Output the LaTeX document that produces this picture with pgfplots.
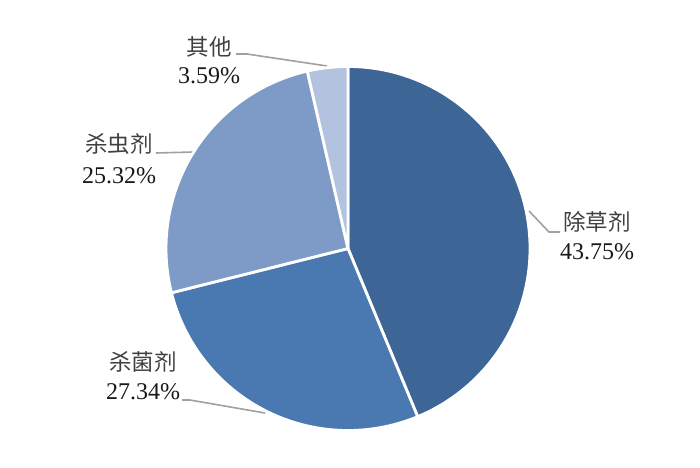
\documentclass[border=0pt]{standalone}
\usepackage{fontspec}
\setmainfont{Liberation Serif}
\newfontfamily\cjk{Noto Sans CJK SC}
\usepackage{pgfplots}
\pgfplotsset{compat=1.18}
\usepackage{pgfplotstable}

\definecolor{sA}{HTML}{3D6596}
\definecolor{sB}{HTML}{4A78B0}
\definecolor{sC}{HTML}{7E9BC8}
\definecolor{sD}{HTML}{B3C3DF}
\definecolor{leader}{HTML}{A0A0A0}

% slices: centre (px), cumulative start/end percent, colour index
\pgfplotstableread{
x y p0 p1 c
348 248.5 0.00 43.75 1
348 248.5 43.75 71.09 2
348 248.5 71.09 96.41 3
348 248.5 96.41 100.00 4
}\slices

% label positions: name line and percent line
\pgfplotstableread{
x yn yp name pct
597 222 252 除草剂 43.75\%
143 362 392 杀菌剂 27.34\%
119 144 176 杀虫剂 25.32\%
209 47 76 其他 3.59\%
}\labels

\begin{document}
\begin{tikzpicture}
\begin{axis}[
    width=700pt, height=467pt,
    scale only axis,
    xmin=0, xmax=700, ymin=0, ymax=467,
    y dir=reverse,
    hide axis,
    clip=false,
]
% keep the full canvas as bounding box
\addplot[draw=none, mark=none, forget plot] coordinates {(0,0) (700,467)};

% pie slices
\addplot[scatter, only marks, mark=*, mark size=0pt,
    mark options={draw=none, fill=none},
    visualization depends on={\thisrow{p0} \as \pa},
    visualization depends on={\thisrow{p1} \as \pb},
    visualization depends on={\thisrow{c} \as \ci},
    scatter/@pre marker code/.code={%
        \pgfmathsetmacro\sa{90-3.6*\pa}%
        \pgfmathsetmacro\sb{90-3.6*\pb}%
        \pgfmathtruncatemacro\cidx{\ci}%
        \ifcase\cidx\def\slcol{sA}\or\def\slcol{sA}\or\def\slcol{sB}\or\def\slcol{sC}\else\def\slcol{sD}\fi
        \fill[fill=\slcol, draw=white, line width=2.8pt, line join=round]
            (0,0) -- (\sa:182pt) arc[start angle=\sa, end angle=\sb, radius=182pt] -- cycle;
    },
    scatter/@post marker code/.code={},
] table {\slices};

% leader lines
\addplot[leader, line width=1.6pt, mark=none] coordinates {(236,54) (247,54) (327,66)};
\addplot[leader, line width=1.6pt, mark=none] coordinates {(156,153) (193,152)};
\addplot[leader, line width=1.6pt, mark=none] coordinates {(529,211) (549,232) (560,232)};
\addplot[leader, line width=1.6pt, mark=none] coordinates {(182,400) (190,400) (265,413)};

% labels: names
\addplot[only marks, mark=*, mark size=0pt,
    mark options={draw=none, fill=none},
    point meta=explicit symbolic,
    nodes near coords,
    nodes near coords style={anchor=center,
        font=\cjk\fontsize{22.5}{26}\selectfont, text=black!75},
] table[x=x, y=yn, meta=name] {\labels};
% labels: percentages
\addplot[only marks, mark=*, mark size=0pt,
    mark options={draw=none, fill=none},
    point meta=explicit symbolic,
    nodes near coords,
    nodes near coords style={anchor=center,
        font=\fontsize{24}{26}\selectfont, text=black!90},
] table[x=x, y=yp, meta=pct] {\labels};
\end{axis}
\end{tikzpicture}
\end{document}
